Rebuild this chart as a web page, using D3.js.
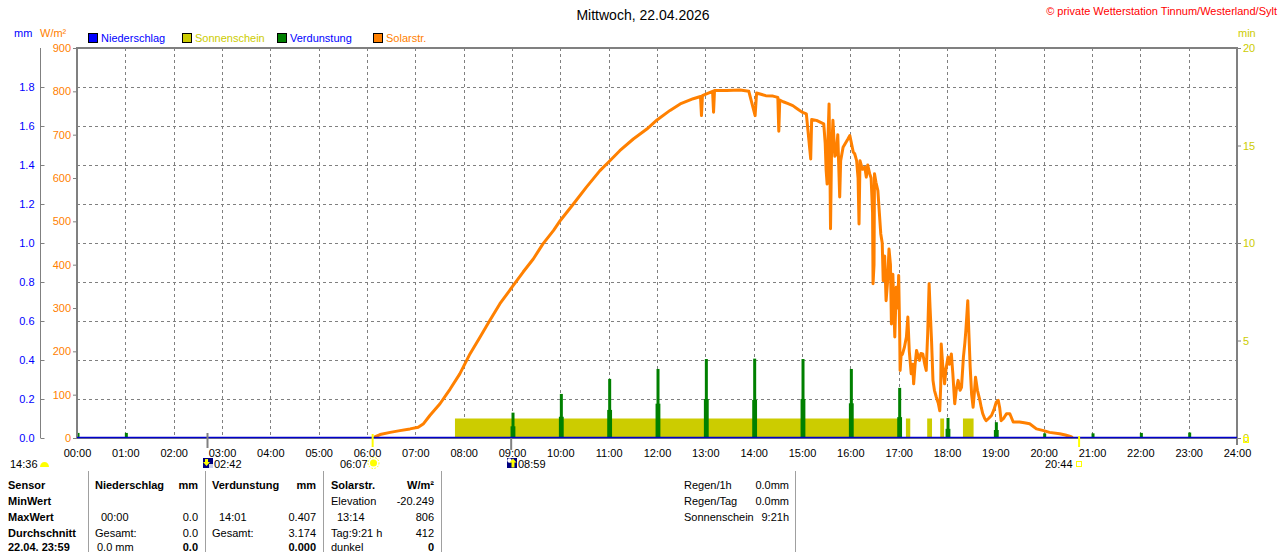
<!DOCTYPE html>
<html>
<head>
<meta charset="utf-8">
<script src="https://cdn.jsdelivr.net/npm/d3@7"></script>
<style>
  body { margin: 0; background: #fff; }
  svg { display: block; font-family: "Liberation Sans", Arial, sans-serif; }
  text { font-size: 11px; }
</style>
</head>
<body>
<div id="chart"></div>
<script>
'use strict';

// hours of day, W/m2
var solarTime = [6.15, 6.27, 6.48, 6.68, 6.89, 7.06, 7.17, 7.30, 7.51, 7.72, 7.92, 8.13, 8.34, 8.54, 8.75,
    9.00, 9.23, 9.44, 9.64, 9.86, 10.00, 10.27, 10.54, 10.82, 11.00, 11.23, 11.51, 11.79, 12.00, 12.27,
    12.48, 12.75, 12.90, 12.92, 12.94, 13.00, 13.15, 13.17, 13.19, 13.44, 13.72, 13.90, 14.03, 14.06,
    14.25, 14.40, 14.50, 14.52, 14.54, 14.61, 14.70, 14.81, 14.90, 15.00, 15.09, 15.18, 15.20, 15.30,
    15.45, 15.48, 15.50, 15.52, 15.54, 15.56, 15.58, 15.59, 15.61, 15.64, 15.68, 15.71, 15.74, 15.78,
    15.80, 15.85, 15.95, 15.99, 16.06, 16.09, 16.13, 16.16, 16.18, 16.20, 16.25, 16.30, 16.33, 16.36,
    16.40, 16.43, 16.46, 16.47, 16.49, 16.50, 16.53, 16.57, 16.60, 16.63, 16.66, 16.68, 16.71, 16.74,
    16.77, 16.80, 16.83, 16.85, 16.88, 16.90, 16.92, 16.95, 16.98, 17.00, 17.02, 17.03, 17.05, 17.08,
    17.12, 17.16, 17.19, 17.22, 17.26, 17.29, 17.31, 17.34, 17.37, 17.40, 17.43, 17.46, 17.50, 17.54,
    17.57, 17.60, 17.63, 17.65, 17.68, 17.71, 17.74, 17.78, 17.82, 17.85, 17.87, 17.88, 17.91, 17.95,
    17.98, 18.02, 18.05, 18.09, 18.12, 18.16, 18.19, 18.23, 18.27, 18.30, 18.34, 18.37, 18.39, 18.43,
    18.45, 18.48, 18.51, 18.54, 18.57, 18.59, 18.63, 18.68, 18.71, 18.74, 18.78, 18.81, 18.86, 18.92,
    18.97, 19.02, 19.06, 19.09, 19.12, 19.17, 19.23, 19.30, 19.37, 19.50, 19.60, 19.71, 19.85, 20.00,
    20.12, 20.33, 20.45, 20.57, 20.60];
var solarValue = [2, 8, 13, 17, 21, 25, 33, 52, 79, 113, 148, 194, 233, 271, 310,
    348, 383, 413, 448, 479, 502, 540, 579, 617, 637, 663, 690, 713, 734, 756,
    771, 783, 788, 744, 790, 793, 800, 752, 802, 802, 803, 800, 744, 796,
    790, 789, 786, 708, 780, 776, 772, 767, 760, 752, 748, 644, 735, 733,
    725, 680, 617, 586, 700, 771, 600, 483, 650, 733, 650, 656, 700, 556,
    640, 671, 690, 698, 660, 656, 640, 600, 494, 640, 620, 625, 602, 630,
    610, 600, 520, 356, 400, 610, 590, 571, 520, 471, 450, 363, 420, 317,
    360, 436, 400, 263, 378, 300, 233, 348, 300, 375, 250, 156, 190, 194,
    210, 233, 279, 200, 148, 170, 125, 170, 202, 190, 179, 195, 194, 170,
    156, 240, 356, 300, 225, 133, 110, 94, 80, 63, 120, 217, 170, 125,
    160, 187, 170, 194, 150, 79, 110, 133, 110, 117, 187, 220, 248, 317,
    250, 163, 100, 71, 110, 140, 110, 87, 70, 56, 45, 40, 45, 52,
    65, 83, 87, 70, 40, 45, 56, 56, 37, 37, 35, 33, 21, 17,
    13, 10, 7, 3, 0];

// Verdunstung (mm) around each full hour: short wide part and thin peak
var evapHours = [0, 1, 9, 10, 11, 12, 13, 14, 15, 16, 17, 18, 19, 20, 21, 22, 23];
var evapPeak = [0.026, 0.026, 0.13, 0.226, 0.303, 0.354, 0.405, 0.407, 0.405, 0.354, 0.257, 0.103, 0.081, 0.024, 0.024, 0.026, 0.028];
var evapBase = [0, 0, 0.06, 0.109, 0.144, 0.176, 0.2, 0.195, 0.2, 0.178, 0.107, 0.047, 0.041, 0, 0, 0, 0];

// Sonnenschein (min)
var sunStart = [7.82, 17.15, 17.59, 17.86, 18.33];
var sunEnd = [16.99, 17.24, 17.69, 17.94, 18.55];
var sunValue = [1, 1, 1, 1, 1];

// Niederschlag (mm)
var rainTime = [0, 24];
var rainValue = [0, 0];

var hourTicks = d3.range(0, 25);
var mmTicks = d3.range(0, 1.81, 0.2);
var wTicks = d3.range(0, 901, 100);
var minTicks = [0, 5, 10, 15, 20];

var legendNames = ['Niederschlag', 'Sonnenschein', 'Verdunstung', 'Solarstr.'];
var legendFill = ['#0000ff', '#cccc00', '#008000', '#ff8000'];
var legendText = ['#0000ff', '#cccc00', '#0000ff', '#ff8000'];

(function () {
    var width = 1280, height = 552,
        left = 77, right = 1237, top = 48, bottom = 438,
        grey = '#808080', orange = '#ff8000', yellow = '#cccc00', blue = '#0000ff', green = '#008000';

    var svg = d3.select('#chart').append('svg').attr('width', width).attr('height', height);
    svg.append('rect').attr('width', width).attr('height', height).attr('fill', '#fff');

    var x = d3.scaleLinear().domain([0, 24]).range([left, right]),
        yMm = d3.scaleLinear().domain([0, 2]).range([bottom, top]),
        yW = d3.scaleLinear().domain([0, 900]).range([bottom, top]),
        yMin = d3.scaleLinear().domain([0, 20]).range([bottom, top]);

    // title + copyright
    svg.append('text').attr('x', 643).attr('y', 20).attr('text-anchor', 'middle').style('font-size', '14px').text('Mittwoch, 22.04.2026');
    svg.append('text').attr('x', 1277).attr('y', 15).attr('text-anchor', 'end').attr('fill', '#ff0000').text('\u00a9 private Wetterstation Tinnum/Westerland/Sylt');

    // unit labels
    svg.append('text').attr('x', 14).attr('y', 37).attr('fill', blue).text('mm');
    svg.append('text').attr('x', 40).attr('y', 37).attr('fill', orange).text('W/m\u00b2');
    svg.append('text').attr('x', 1238).attr('y', 37).attr('fill', yellow).text('min');

    // legend
    var legendX = [88, 182, 277, 373];
    var lg = svg.selectAll('.legend').data(legendNames).enter().append('g').attr('class', 'legend')
        .attr('transform', function (d, i) { return 'translate(' + legendX[i] + ',33)'; });
    lg.append('rect').attr('x', 0.5).attr('y', 0.5).attr('width', 9).attr('height', 9)
        .attr('fill', function (d, i) { return legendFill[i]; }).attr('stroke', '#000');
    lg.append('text').attr('x', 13).attr('y', 9).attr('fill', function (d, i) { return legendText[i]; }).text(function (d) { return d; });

    // grid
    var grid = svg.append('g').attr('stroke', grey).attr('stroke-dasharray', '3,3').attr('stroke-width', 1);
    grid.selectAll('.vg').data(hourTicks.slice(1, 24)).enter().append('line')
        .attr('x1', function (d) { return Math.round(x(d)) + 0.5; }).attr('x2', function (d) { return Math.round(x(d)) + 0.5; })
        .attr('y1', top).attr('y2', bottom);
    grid.selectAll('.hg').data(mmTicks.slice(1)).enter().append('line')
        .attr('x1', left).attr('x2', right)
        .attr('y1', function (d) { return Math.round(yMm(d)) + 0.5; }).attr('y2', function (d) { return Math.round(yMm(d)) + 0.5; });

    // sunshine
    svg.append('g').selectAll('rect').data(sunStart).enter().append('rect')
        .attr('x', function (d) { return x(d); })
        .attr('width', function (d, i) { return x(sunEnd[i]) - x(d); })
        .attr('y', function (d, i) { return yMin(sunValue[i]); })
        .attr('height', function (d, i) { return bottom - yMin(sunValue[i]); })
        .attr('fill', yellow);

    // evaporation
    var ev = svg.append('g').attr('fill', green);
    ev.selectAll('.base').data(evapHours).enter().append('rect')
        .attr('x', function (d) { return x(d - 0.03); })
        .attr('width', function () { return x(0.1) - x(0); })
        .attr('y', function (d, i) { return yMm(evapBase[i]); })
        .attr('height', function (d, i) { return bottom - yMm(evapBase[i]); });
    ev.selectAll('.peak').data(evapHours).enter().append('rect')
        .attr('x', function (d) { return x(d - 0.01); })
        .attr('width', function () { return x(0.062) - x(0); })
        .attr('y', function (d, i) { return yMm(evapPeak[i]); })
        .attr('height', function (d, i) { return bottom - yMm(evapPeak[i]); });

    // solar radiation
    var solarLine = d3.line().x(function (d) { return x(d[0]); }).y(function (d) { return yW(d[1]); });
    svg.append('path').datum(d3.zip(solarTime, solarValue)).attr('d', solarLine)
        .attr('fill', 'none').attr('stroke', orange).attr('stroke-width', 3).attr('stroke-linejoin', 'round');

    // frame
    var frame = svg.append('g').attr('stroke', grey).attr('stroke-width', 2).attr('fill', 'none');
    frame.append('line').attr('x1', left).attr('x2', right + 1).attr('y1', top).attr('y2', top);
    frame.append('line').attr('x1', left).attr('x2', left).attr('y1', top - 1).attr('y2', bottom + 1);
    frame.append('line').attr('x1', right).attr('x2', right).attr('y1', top - 1).attr('y2', bottom + 7);
    frame.append('line').attr('x1', left).attr('x2', right).attr('y1', bottom).attr('y2', bottom);
    svg.append('line').attr('x1', 40.5).attr('x2', 40.5).attr('y1', top).attr('y2', bottom).attr('stroke', grey);

    // rain line along zero
    var rainLine = d3.line().x(function (d) { return x(d[0]); }).y(function (d) { return yMm(d[1]) - 0.5; });
    svg.append('path').datum(d3.zip(rainTime, rainValue)).attr('d', rainLine)
        .attr('stroke', '#0000cc').attr('stroke-width', 1.5).attr('fill', 'none');

    // axes
    function styleAxis(g, color) {
        g.select('.domain').remove();
        g.selectAll('.tick line').attr('stroke', grey);
        g.selectAll('text').attr('fill', color).style('font-size', '11px');
        g.attr('font-family', null).attr('font-size', null);
    }

    svg.append('g').attr('transform', 'translate(40.5,0)')
        .call(d3.axisLeft(yMm).tickValues(mmTicks).tickSizeInner(-4).tickSizeOuter(0).tickPadding(6).tickFormat(d3.format('.1f')))
        .call(styleAxis, blue);

    svg.append('g').attr('transform', 'translate(' + left + ',0)')
        .call(d3.axisLeft(yW).tickValues(wTicks).tickSize(4).tickPadding(2).tickFormat(d3.format('d')))
        .call(styleAxis, orange);

    svg.append('g').attr('transform', 'translate(' + right + ',0)')
        .call(d3.axisRight(yMin).tickValues(minTicks).tickSize(4).tickPadding(2))
        .call(styleAxis, yellow);

    svg.append('g').attr('transform', 'translate(0,' + bottom + ')')
        .call(d3.axisBottom(x).tickValues(hourTicks).tickSize(0).tickPadding(11)
            .tickFormat(function (d) { return (d < 10 ? '0' : '') + d + ':00'; }))
        .call(styleAxis, '#000');

    // sun / moon markers
    var markTime = [2.7, 6.117, 8.983, 20.733];
    var markColor = [grey, '#ffff00', grey, '#ffff00'];
    var markY1 = [433, 434, 438, 436];
    var markY2 = [448, 447, 450, 447];
    svg.append('g').selectAll('line').data(markTime).enter().append('line')
        .attr('x1', function (d) { return x(d); }).attr('x2', function (d) { return x(d); })
        .attr('y1', function (d, i) { return markY1[i]; }).attr('y2', function (d, i) { return markY2[i]; })
        .attr('stroke', function (d, i) { return markColor[i]; }).attr('stroke-width', 2);

    var markLabel = [['14:36', 10], ['02:42', 214], ['06:07', 340], ['08:59', 518], ['20:44', 1045]];
    svg.append('g').selectAll('text').data(markLabel).enter().append('text')
        .attr('x', function (d) { return d[1]; }).attr('y', 468).text(function (d) { return d[0]; });

    // icons
    svg.append('path').attr('d', 'M40,467 A4.5,5 0 0 1 49,467 Z').attr('fill', '#ffff00');
    svg.append('rect').attr('x', 203).attr('y', 458).attr('width', 10).attr('height', 10).attr('fill', '#000080');
    svg.append('path').attr('d', 'M205,459 h3 v3 h2 l-3.5,4 l-3.5,-4 h2 Z').attr('fill', '#ffff00');
    svg.append('rect').attr('x', 209).attr('y', 464).attr('width', 4).attr('height', 4).attr('fill', '#c8d0f0');
    svg.append('circle').attr('cx', 373.5).attr('cy', 463).attr('r', 3.5).attr('fill', '#ffff00');
    svg.append('circle').attr('cx', 373.5).attr('cy', 463).attr('r', 5.5).attr('fill', 'none').attr('stroke', '#ffff00').attr('stroke-dasharray', '1.5,1.5');
    svg.append('rect').attr('x', 507).attr('y', 458).attr('width', 10).attr('height', 10).attr('fill', '#000080');
    svg.append('circle').attr('cx', 509.5).attr('cy', 460.5).attr('r', 2.2).attr('fill', '#fff');
    svg.append('path').attr('d', 'M513,458.5 l3.5,4 h-2 v5 h-3 v-5 h-2 Z').attr('fill', '#ffff00');
    svg.append('rect').attr('x', 1076.5).attr('y', 461.5).attr('width', 5).attr('height', 5).attr('fill', 'none').attr('stroke', '#ffff00');
    svg.append('rect').attr('x', 1243.5).attr('y', 437.5).attr('width', 5).attr('height', 5).attr('fill', 'none').attr('stroke', '#ffff00');

    // table
    var sepX = [88, 205, 323, 441, 795];
    svg.append('g').selectAll('line').data(sepX).enter().append('line')
        .attr('x1', function (d) { return d + 0.5; }).attr('x2', function (d) { return d + 0.5; })
        .attr('y1', 471).attr('y2', height).attr('stroke', '#a0a0a0');

    var rowY = [489, 505, 521, 537, 551];
    var rowNames = ['Sensor', 'MinWert', 'MaxWert', 'Durchschnitt', '22.04. 23:59'];
    // [text, x, row, anchor, bold]
    var cells = [
        ['Niederschlag', 95, 0, 'start', 1], ['mm', 198, 0, 'end', 1],
        ['00:00', 101, 2, 'start', 0], ['0.0', 198, 2, 'end', 0],
        ['Gesamt:', 95, 3, 'start', 0], ['0.0', 198, 3, 'end', 0],
        ['0.0 mm', 97, 4, 'start', 0], ['0.0', 198, 4, 'end', 1],
        ['Verdunstung', 212, 0, 'start', 1], ['mm', 316, 0, 'end', 1],
        ['14:01', 219, 2, 'start', 0], ['0.407', 316, 2, 'end', 0],
        ['Gesamt:', 212, 3, 'start', 0], ['3.174', 316, 3, 'end', 0],
        ['0.000', 316, 4, 'end', 1],
        ['Solarstr.', 331, 0, 'start', 1], ['W/m\u00b2', 434, 0, 'end', 1],
        ['Elevation', 331, 1, 'start', 0], ['-20.249', 434, 1, 'end', 0],
        ['13:14', 337, 2, 'start', 0], ['806', 434, 2, 'end', 0],
        ['Tag:9:21 h', 331, 3, 'start', 0], ['412', 434, 3, 'end', 0],
        ['dunkel', 331, 4, 'start', 0], ['0', 434, 4, 'end', 1],
        ['Regen/1h', 684, 0, 'start', 0], ['0.0mm', 789, 0, 'end', 0],
        ['Regen/Tag', 684, 1, 'start', 0], ['0.0mm', 789, 1, 'end', 0],
        ['Sonnenschein', 684, 2, 'start', 0], ['9:21h', 789, 2, 'end', 0]
    ];
    svg.append('g').selectAll('text').data(rowNames).enter().append('text')
        .attr('x', 8).attr('y', function (d, i) { return rowY[i]; }).style('font-weight', 'bold').text(function (d) { return d; });
    svg.append('g').selectAll('text').data(cells).enter().append('text')
        .attr('x', function (d) { return d[1]; }).attr('y', function (d) { return rowY[d[2]]; })
        .attr('text-anchor', function (d) { return d[3]; })
        .style('font-weight', function (d) { return d[4] ? 'bold' : 'normal'; })
        .text(function (d) { return d[0]; });
})();
</script>
</body>
</html>
